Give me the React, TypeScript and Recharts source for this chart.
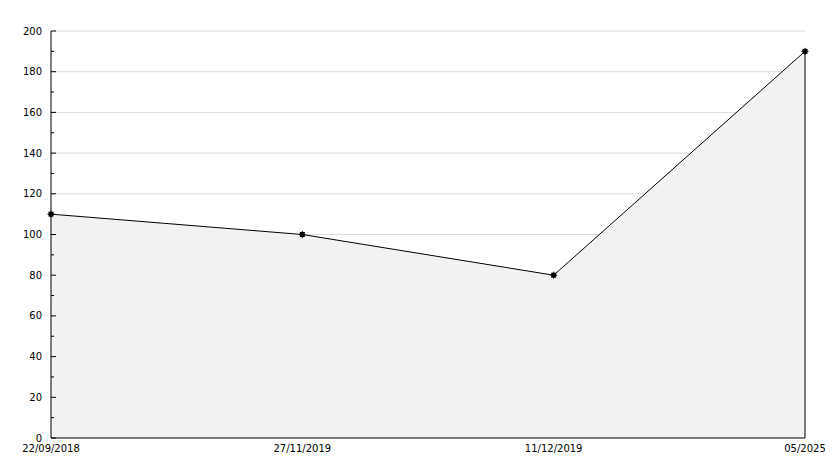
import React from "react";
import {
  AreaChart,
  Area,
  XAxis,
  YAxis,
  CartesianGrid,
  ReferenceLine,
} from "recharts";

if (typeof document !== "undefined") {
  document.body.style.margin = "0";
}

const dates = ["22/09/2018", "27/11/2019", "11/12/2019", "05/2025"];
const values = [110, 100, 80, 190];
const yTicks = [0, 10, 20, 30, 40, 50, 60, 70, 80, 90, 100, 110, 120, 130, 140, 150, 160, 170, 180, 190, 200];
const gridValues = [20, 40, 60, 80, 100, 120, 140, 160, 180, 200];

const data = dates.map((d, i) => ({ date: d, value: values[i] }));

const FONT = "'DejaVu Sans', sans-serif";

function YTick(props: any) {
  const { x, y, payload } = props;
  const v = payload.value as number;
  const major = v % 20 === 0;
  return (
    <g>
      <line x1={x + 9} x2={x + (major ? 14 : 12)} y1={y} y2={y} stroke="#000" />
      {major && (
        <text x={x} y={y} dy="0.355em" textAnchor="end" fontSize={10} fontFamily={FONT} fill="#000">
          {v}
        </text>
      )}
    </g>
  );
}

// small square-ish marker like the original
function Marker(props: any) {
  const { cx, cy } = props;
  if (cx == null || cy == null) return null;
  return (
    <g>
      <rect x={cx - 2.5} y={cy - 2.5} width={5} height={5} fill="#000" />
      <line x1={cx - 3.5} x2={cx + 3.5} y1={cy} y2={cy} stroke="#000" />
      <line x1={cx} x2={cx} y1={cy - 3.5} y2={cy + 3.5} stroke="#000" />
    </g>
  );
}

export default function App() {
  return (
    <AreaChart
      width={834}
      height={468}
      data={data}
      margin={{ top: 31, right: 29, left: 0, bottom: 0 }}
    >
      <CartesianGrid horizontalValues={gridValues} vertical={false} stroke="#dcdcdc" />
      <XAxis
        dataKey="date"
        height={30}
        tickLine={false}
        tickSize={0}
        tickMargin={7}
        interval={0}
        axisLine={{ stroke: "#000" }}
        tick={{ fontSize: 10, fontFamily: FONT, fill: "#000" }}
      />
      <YAxis
        width={51}
        domain={[0, 200]}
        ticks={yTicks}
        interval={0}
        tickLine={false}
        tickSize={0}
        tickMargin={9}
        axisLine={{ stroke: "#000" }}
        tick={<YTick />}
      />
      <Area
        type="linear"
        dataKey="value"
        stroke="#000"
        strokeWidth={1}
        fill="#f2f2f2"
        fillOpacity={1}
        dot={<Marker />}
        activeDot={false}
        isAnimationActive={false}
      />
      <ReferenceLine
        segment={[
          { x: dates[3], y: 0 },
          { x: dates[3], y: values[3] },
        ]}
        stroke="#000"
      />
    </AreaChart>
  );
}
